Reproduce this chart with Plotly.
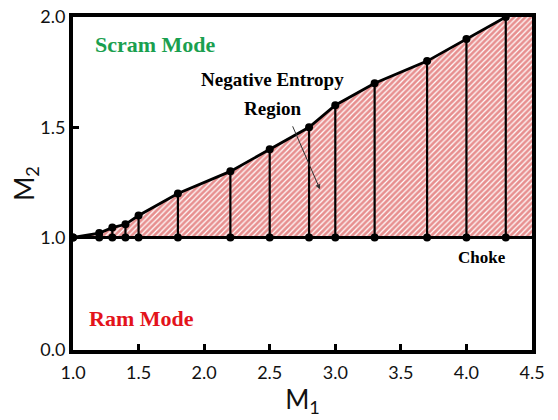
import plotly.graph_objects as go

# Data
m1 = [1.0, 1.2, 1.3, 1.4, 1.5, 1.8, 2.2, 2.5, 2.8, 3.0, 3.3, 3.7, 4.0, 4.3]
m2 = [1.0, 1.02, 1.045, 1.06, 1.1, 1.2, 1.3, 1.4, 1.5, 1.6, 1.7, 1.8, 1.9, 2.0]
choke_level = 1.0
x_max = 4.5
y_max = 2.0

x_ticks = [1.0, 1.5, 2.0, 2.5, 3.0, 3.5, 4.0, 4.5]
x_ticktext = ["1.0", "1.5", "2.0", "2.5", "3.0", "3.5", "4.0", "4.5"]
# the axis is compressed below 1.0: the "0.0" label sits at 0.49 in plot units
y_zero_pos = 0.49
y_ticks = [y_zero_pos, 1.0, 1.5, 2.0]
y_ticktext = ["0.0", "1.0", "1.5", "2.0"]

fig = go.Figure()

# hatched negative entropy region
poly_x = m1 + [x_max, x_max, m1[0]]
poly_y = m2 + [y_max, choke_level, choke_level]
fig.add_trace(go.Scatter(
    x=poly_x, y=poly_y, mode="none", fill="toself",
    fillcolor="rgba(255,255,255,0)",
    fillpattern=dict(shape="/", fgcolor="#cf1f1f", bgcolor="#ffffff",
                     size=4, solidity=0.7),
    hoverinfo="skip", showlegend=False))

# vertical lines from each point down to the choke line
vx, vy = [], []
for xv, yv in zip(m1, m2):
    vx += [xv, xv, None]
    vy += [yv, choke_level, None]
fig.add_trace(go.Scatter(x=vx, y=vy, mode="lines",
                         line=dict(color="black", width=2.2),
                         showlegend=False, hoverinfo="skip"))

# choke line
fig.add_trace(go.Scatter(x=[m1[0], x_max], y=[choke_level, choke_level],
                         mode="lines", line=dict(color="black", width=3),
                         showlegend=False, hoverinfo="skip"))

# markers on choke line
fig.add_trace(go.Scatter(x=m1, y=[choke_level] * len(m1), mode="markers",
                         marker=dict(color="black", size=8),
                         showlegend=False))

# upper boundary curve
fig.add_trace(go.Scatter(x=m1, y=m2, mode="lines+markers",
                         line=dict(color="black", width=2.8),
                         marker=dict(color="black", size=8),
                         showlegend=False))

serif = "Liberation Serif"
fig.add_annotation(x=1.627, y=1.875, text="<b>Scram Mode</b>", showarrow=False,
                   font=dict(family=serif, size=22, color="#1a9f4f"))
fig.add_annotation(x=2.525, y=1.718, text="<b>Negative Entropy</b>", showarrow=False,
                   font=dict(family=serif, size=19, color="black"))
fig.add_annotation(x=2.525, y=1.587, text="<b>Region</b>", showarrow=False,
                   font=dict(family=serif, size=19, color="black"))
fig.add_annotation(x=1.524, y=0.634, text="<b>Ram Mode</b>", showarrow=False,
                   font=dict(family=serif, size=22, color="#e3131b"))
fig.add_annotation(x=4.117, y=0.91, text="<b>Choke</b>", showarrow=False,
                   font=dict(family=serif, size=17, color="black"))
# arrow pointing into the region
fig.add_annotation(x=2.883, y=1.219, ax=2.67, ay=1.511, axref="x", ayref="y",
                   xref="x", yref="y", text="", showarrow=True,
                   arrowhead=2, arrowsize=1, arrowwidth=1, arrowcolor="#333")

fig.update_xaxes(range=[1.0, x_max], tickvals=x_ticks, ticktext=x_ticktext,
                 showgrid=False, zeroline=False, automargin=False,
                 ticklabeloverflow="allow",
                 showline=True, linecolor="black", linewidth=4, mirror=True,
                 ticks="inside", ticklen=6, tickwidth=3, tickcolor="black",
                 ticklabelstandoff=3,
                 tickfont=dict(family="Lato", size=18, color="#111"),
                 title=dict(text="M<sub>1</sub>", font=dict(family="Lato", size=26, color="#111"),
                            standoff=10))
fig.update_yaxes(range=[y_zero_pos, y_max], tickvals=y_ticks, ticktext=y_ticktext,
                 showgrid=False, zeroline=False, automargin=False,
                 ticklabeloverflow="allow",
                 showline=True, linecolor="black", linewidth=4, mirror=True,
                 ticks="inside", ticklen=6, tickwidth=3, tickcolor="black",
                 tickfont=dict(family="Lato", size=18, color="#111"),
                 title=dict(text="M<sub>2</sub>", font=dict(family="Lato", size=26, color="#111"),
                            standoff=15))

# page body has an 8px margin, so the figure is shrunk/shifted to keep the
# plot area where the reference has it
fig.update_layout(width=550, height=412, margin=dict(l=65, r=26, t=9, b=70),
                  plot_bgcolor="white", paper_bgcolor="white")

fig.write_html("out.html")
